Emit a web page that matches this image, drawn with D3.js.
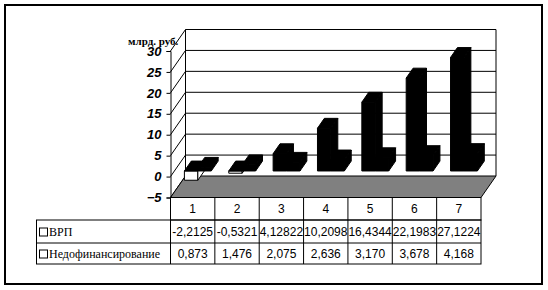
<!DOCTYPE html>
<html>
<head>
<meta charset="utf-8">
<script src="https://cdn.jsdelivr.net/npm/d3@7"></script>
<style>
  body { margin: 0; background: #fff; }
  svg { display: block; }
</style>
</head>
<body>
<div id="chart"></div>
<script>
const categories = ["1", "2", "3", "4", "5", "6", "7"];
const seriesNames = ["ВРП", "Недофинансирование"];
const vrp = [-2.2125, -0.5321, 4.12822, 10.2098, 16.4344, 22.1983, 27.1224];
const nedof = [0.873, 1.476, 2.075, 2.636, 3.170, 3.678, 4.168];
const yTicks = [-5, 0, 5, 10, 15, 20, 25, 30];
const unitLabel = "млрд. руб.";

const width = 548, height = 290;
const DX = 15, DY = 21.5;       // depth offset of the 3d box
const d0 = 0.26, d1 = 0.72;     // bar depth (fraction of box depth)

const svg = d3.select("#chart").append("svg")
  .attr("width", width)
  .attr("height", height);

// outer frame
svg.append("rect")
  .attr("x", 5).attr("y", 5)
  .attr("width", 537).attr("height", 279)
  .attr("fill", "#fff").attr("stroke", "#000").attr("stroke-width", 2);

const y = d3.scaleLinear().domain([-5, 30]).range([197.5, 51]);
const x0 = d3.scaleBand().domain(categories).range([170.5, 481]);
const x1 = d3.scaleBand().domain(seriesNames).range([10, x0.bandwidth() - 7.5]);

const P = (xf, v, d) => [xf + DX * d, y(v) - DY * d];
const line = d3.line();

const left = x0.range()[0], right = x0.range()[1];

// back wall
svg.append("path")
  .attr("d", line([P(left, -5, 1), P(left, 30, 1), P(right, 30, 1), P(right, -5, 1)]))
  .attr("fill", "#fff").attr("stroke", "#000");

// gridlines on back wall + side wall diagonals
yTicks.forEach(t => {
  if (t > -5 && t < 30) {
    svg.append("path")
      .attr("d", line([P(left, t, 1), P(right, t, 1)]))
      .attr("stroke", "#000").attr("fill", "none");
  }
  svg.append("path")
    .attr("d", line([P(left, t, 0), P(left, t, 1)]))
    .attr("stroke", "#000").attr("fill", "none");
});

// floor
svg.append("path")
  .attr("d", line([P(left, -5, 0), P(right, -5, 0), P(right, -5, 1), P(left, -5, 1)]) + "Z")
  .attr("fill", "#808080").attr("stroke", "#000");

// value axis on the front left edge
const axis = svg.append("g")
  .attr("transform", `translate(${left},0)`)
  .call(d3.axisLeft(y).tickValues(yTicks).tickSize(4).tickPadding(5).tickFormat(d3.format("d")));
axis.select(".domain").attr("stroke", "#000");
axis.selectAll(".tick line").attr("stroke", "#000");
axis.selectAll(".tick text")
  .attr("fill", "#000")
  .style("font-family", "'Liberation Sans', Arial, sans-serif")
  .style("font-size", "13px")
  .style("font-weight", "bold")
  .style("font-style", "italic");

svg.append("text")
  .attr("x", 128).attr("y", 45)
  .style("font-family", "'Liberation Serif', 'Times New Roman', serif")
  .style("font-size", "11px")
  .style("font-weight", "bold")
  .text(unitLabel);

// bars
const data = categories.map((c, i) => [
  { cat: c, s: seriesNames[0], v: vrp[i] },
  { cat: c, s: seriesNames[1], v: nedof[i] }
]).flat();

data.forEach(d => {
  const xl = x0(d.cat) + x1(d.s);
  const xr = xl + x1.bandwidth();
  const top = Math.max(d.v, 0);
  const neg = d.v < 0;
  const g = svg.append("g");
  // front face
  g.append("path")
    .attr("d", line([P(xl, 0, d0), P(xr, 0, d0), P(xr, d.v, d0), P(xl, d.v, d0)]) + "Z")
    .attr("fill", neg ? "#fff" : "#000").attr("stroke", "#000");
  // right side
  g.append("path")
    .attr("d", line([P(xr, 0, d0), P(xr, d.v, d0), P(xr, d.v, d1), P(xr, 0, d1)]) + "Z")
    .attr("fill", neg ? "#fff" : "#000").attr("stroke", "#000");
  // top face
  g.append("path")
    .attr("d", line([P(xl, top, d0), P(xr, top, d0), P(xr, top, d1), P(xl, top, d1)]) + "Z")
    .attr("fill", "#000").attr("stroke", "#000");
});

// data table
const tableLeft = 36.5;
const rowY = [197.5, 220, 243, 264];
const numFont = "'Liberation Sans', Arial, sans-serif";
const t = svg.append("g").attr("stroke", "#000").attr("fill", "none");

// category row
t.append("rect").attr("x", left).attr("y", rowY[0]).attr("width", right - left).attr("height", rowY[1] - rowY[0]);
// series rows
t.append("rect").attr("x", tableLeft).attr("y", rowY[1]).attr("width", right - tableLeft).attr("height", rowY[3] - rowY[1]);
t.append("line").attr("x1", tableLeft).attr("x2", right).attr("y1", rowY[2]).attr("y2", rowY[2]);
categories.forEach(c => {
  t.append("line").attr("x1", x0(c)).attr("x2", x0(c)).attr("y1", rowY[0]).attr("y2", rowY[3]);
});

const fmtV = v => String(v).replace(".", ",");
const fmtN = v => d3.format(".3f")(v).replace(".", ",");

categories.forEach((c, i) => {
  const cx = x0(c) + x0.bandwidth() / 2;
  [[c, 0], [fmtV(vrp[i]), 1], [fmtN(nedof[i]), 2]].forEach(([txt, r]) => {
    svg.append("text")
      .attr("x", cx).attr("y", (rowY[r] + rowY[r + 1]) / 2 + 4.5)
      .attr("text-anchor", "middle")
      .style("font-family", numFont)
      .style("font-size", "12px")
      .text(txt);
  });
});

seriesNames.forEach((s, i) => {
  const cy = (rowY[i + 1] + rowY[i + 2]) / 2;
  svg.append("rect")
    .attr("x", 39.5).attr("y", cy - 3.5)
    .attr("width", 8).attr("height", 8)
    .attr("fill", "#fff").attr("stroke", "#000");
  svg.append("text")
    .attr("x", 49).attr("y", cy + 4.5)
    .style("font-family", "'Liberation Serif', 'Times New Roman', serif")
    .style("font-size", "12px")
    .text(s);
});
</script>
</body>
</html>
